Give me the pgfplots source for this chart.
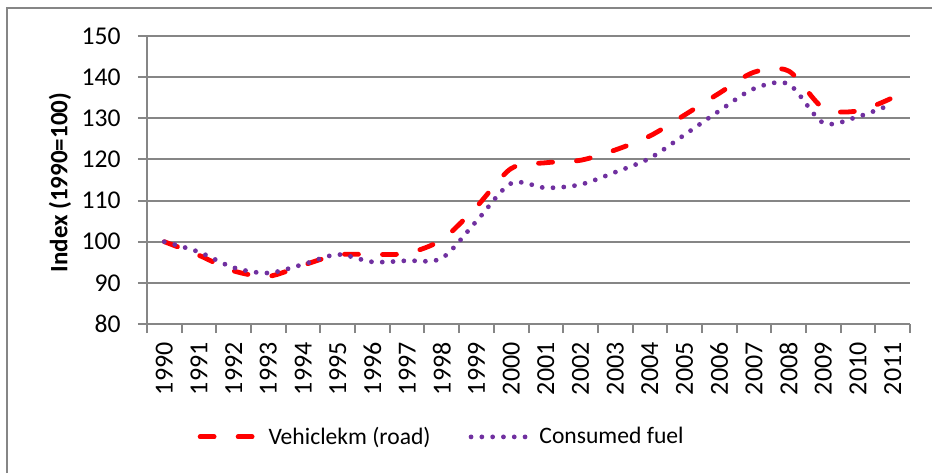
\documentclass[border=0pt]{standalone}
\usepackage{pgfplots}
\pgfplotsset{compat=1.18}
\usepackage{fontspec}
\setmainfont{Carlito}
\definecolor{gridgray}{RGB}{134,134,134}
\definecolor{vkred}{RGB}{255,0,0}
\definecolor{fuelpurple}{RGB}{112,48,160}
\begin{document}
\begin{tikzpicture}
\useasboundingbox (0,0) rectangle (466pt,236.5pt);
\draw[gridgray, line width=1pt] (3.25pt,0) -- (3.25pt,232.75pt) -- (466pt,232.75pt);
\begin{axis}[
  at={(73.5pt,74.5pt)}, anchor=south west,
  scale only axis, width=381.5pt, height=144pt,
  xmin=-0.5, xmax=21.5, ymin=80, ymax=150,
  /pgf/number format/assume math mode=true,
  axis x line*=bottom, axis y line*=left,
  axis line style={-, gridgray, line width=1pt},
  ytick={80,90,...,150},
  minor ytick={80,90,...,150},
  xtick={0,...,21},
  xticklabels={1990,1991,1992,1993,1994,1995,1996,1997,1998,1999,2000,2001,2002,2003,2004,2005,2006,2007,2008,2009,2010,2011},
  minor xtick={-0.5,0.5,...,21.5},
  tick align=outside,
  major tick length=0pt, minor tick length=4.5pt,
  minor tick style={gridgray, line width=1pt},
  ymajorgrids,
  major grid style={gridgray, line width=1pt},
  yticklabel style={font=\fontsize{12.8}{14}\selectfont, anchor=east, inner sep=0pt, xshift=-13pt},
  xticklabel style={font=\fontsize{13}{15}\selectfont, rotate=90, anchor=east, inner sep=0pt, inner xsep=9pt},
  ylabel={\textbf{Index (1990=100)}},
  ylabel style={font=\fontsize{12.5}{14}\selectfont, at={(axis description cs:-0.114,0.491)}, anchor=center, rotate=0},
  legend style={at={(axis description cs:0.3875,-0.392)}, anchor=center, draw=none, fill=none,
    legend columns=2, font=\fontsize{11.8}{14}\selectfont,
    /tikz/every odd column/.append style={column sep=4pt},
    /tikz/every even column/.append style={column sep=17pt}},
  legend image code/.code={\draw[#1] (0pt,0pt) -- (27pt,0pt);},
]
\addplot[vkred, line width=2.4pt, smooth, line cap=round, dash pattern=on 7pt off 12pt] coordinates {
(0,100) (1,96.7) (2,92.9) (3,91.6) (4,94.3) (5,96.8) (6,96.9) (7,97.2) (8,100.5) (9,108.5) (10,117.8)
(11,119.2) (12,119.8) (13,122.3) (14,125.7) (15,130.8) (16,136.1) (17,141.2) (18,141.5) (19,132.5) (20,131.8) (21,135.0)
};
\addlegendentry{Vehiclekm (road)}
\addplot[fuelpurple, line width=2.4pt, smooth, line cap=round, dash pattern=on 0pt off 5.4pt] coordinates {
(0,100) (1,97.5) (2,93.7) (3,92.4) (4,94.5) (5,96.9) (6,95.1) (7,95.4) (8,96.0) (9,105.0) (10,114.2)
(11,113.1) (12,113.9) (13,116.9) (14,120.3) (15,126.0) (16,131.8) (17,137.2) (18,138.3) (19,128.9) (20,130.4) (21,133.5)
};
\addlegendentry{Consumed fuel}
\end{axis}
\end{tikzpicture}
\end{document}
